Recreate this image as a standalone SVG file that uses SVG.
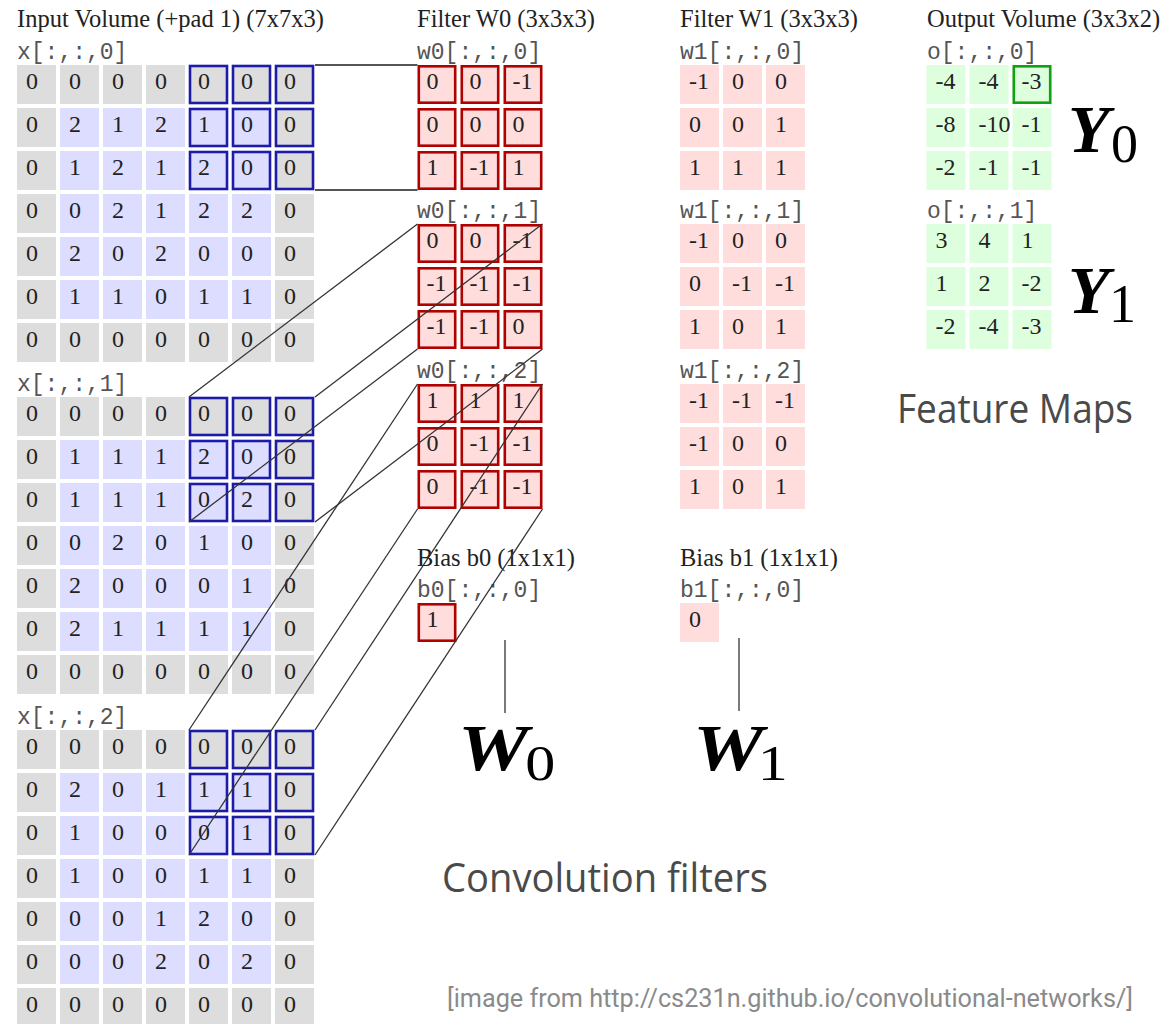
<svg xmlns="http://www.w3.org/2000/svg" xmlns:xlink="http://www.w3.org/1999/xlink" width="1169" height="1024" viewBox="0 0 1169 1024">
<style>
.p{fill:#dddddd}
.i{fill:#ddddff}
.f{fill:#ffdddd}
.g{fill:#ddffdd}
.fr{fill:#ffdddd;stroke:#b00000;stroke-width:2.6}
.hb{fill:none;stroke:#1c1ca8;stroke-width:2.6}
.hg{fill:none;stroke:#10a010;stroke-width:2.6}
.n text,.t{font-family:"Liberation Serif","Times New Roman",serif;font-size:24px;fill:#222}
.t{font-size:24.5px}
.m{font-family:"Liberation Mono","Courier New",monospace;font-size:23px;fill:#555}
.mb{font-family:"Liberation Serif","Times New Roman",serif;font-weight:bold;font-style:italic;font-size:66px;fill:#000}
.my{font-size:68px}
.ms{font-weight:normal;font-style:normal;font-size:54px}
.mw{font-weight:normal;font-style:normal;font-size:50px}
.cn{stroke:#333;stroke-width:1.3;fill:none}
.ct{stroke:#555;stroke-width:2;fill:none}
.pt{stroke:#222;stroke-width:1.2;fill:none}
.s1{font-family:"Open Sans","Noto Sans","Liberation Sans",sans-serif;font-size:40px;fill:#4a4a4a}
.s2{font-family:Roboto,"Open Sans","Liberation Sans",sans-serif;font-size:26px;fill:#8a8a8a}
</style>
<defs>
<g id="grid7">
<rect class="p" x="0" y="0" width="39" height="39"/><rect class="p" x="43" y="0" width="39" height="39"/><rect class="p" x="86" y="0" width="39" height="39"/><rect class="p" x="129" y="0" width="39" height="39"/><rect class="p" x="172" y="0" width="39" height="39"/><rect class="p" x="215" y="0" width="39" height="39"/><rect class="p" x="258" y="0" width="39" height="39"/>
<rect class="p" x="0" y="43" width="39" height="39"/><rect class="i" x="43" y="43" width="39" height="39"/><rect class="i" x="86" y="43" width="39" height="39"/><rect class="i" x="129" y="43" width="39" height="39"/><rect class="i" x="172" y="43" width="39" height="39"/><rect class="i" x="215" y="43" width="39" height="39"/><rect class="p" x="258" y="43" width="39" height="39"/>
<rect class="p" x="0" y="86" width="39" height="39"/><rect class="i" x="43" y="86" width="39" height="39"/><rect class="i" x="86" y="86" width="39" height="39"/><rect class="i" x="129" y="86" width="39" height="39"/><rect class="i" x="172" y="86" width="39" height="39"/><rect class="i" x="215" y="86" width="39" height="39"/><rect class="p" x="258" y="86" width="39" height="39"/>
<rect class="p" x="0" y="129" width="39" height="39"/><rect class="i" x="43" y="129" width="39" height="39"/><rect class="i" x="86" y="129" width="39" height="39"/><rect class="i" x="129" y="129" width="39" height="39"/><rect class="i" x="172" y="129" width="39" height="39"/><rect class="i" x="215" y="129" width="39" height="39"/><rect class="p" x="258" y="129" width="39" height="39"/>
<rect class="p" x="0" y="172" width="39" height="39"/><rect class="i" x="43" y="172" width="39" height="39"/><rect class="i" x="86" y="172" width="39" height="39"/><rect class="i" x="129" y="172" width="39" height="39"/><rect class="i" x="172" y="172" width="39" height="39"/><rect class="i" x="215" y="172" width="39" height="39"/><rect class="p" x="258" y="172" width="39" height="39"/>
<rect class="p" x="0" y="215" width="39" height="39"/><rect class="i" x="43" y="215" width="39" height="39"/><rect class="i" x="86" y="215" width="39" height="39"/><rect class="i" x="129" y="215" width="39" height="39"/><rect class="i" x="172" y="215" width="39" height="39"/><rect class="i" x="215" y="215" width="39" height="39"/><rect class="p" x="258" y="215" width="39" height="39"/>
<rect class="p" x="0" y="258" width="39" height="39"/><rect class="p" x="43" y="258" width="39" height="39"/><rect class="p" x="86" y="258" width="39" height="39"/><rect class="p" x="129" y="258" width="39" height="39"/><rect class="p" x="172" y="258" width="39" height="39"/><rect class="p" x="215" y="258" width="39" height="39"/><rect class="p" x="258" y="258" width="39" height="39"/>
<rect class="hb" x="173" y="1" width="37" height="37"/><rect class="hb" x="216" y="1" width="37" height="37"/><rect class="hb" x="259" y="1" width="37" height="37"/>
<rect class="hb" x="173" y="44" width="37" height="37"/><rect class="hb" x="216" y="44" width="37" height="37"/><rect class="hb" x="259" y="44" width="37" height="37"/>
<rect class="hb" x="173" y="87" width="37" height="37"/><rect class="hb" x="216" y="87" width="37" height="37"/><rect class="hb" x="259" y="87" width="37" height="37"/>
</g>
<g id="fr3">
<rect class="fr" x="1.3" y="1.3" width="36.4" height="36.4"/><rect class="fr" x="44.3" y="1.3" width="36.4" height="36.4"/><rect class="fr" x="87.3" y="1.3" width="36.4" height="36.4"/>
<rect class="fr" x="1.3" y="44.3" width="36.4" height="36.4"/><rect class="fr" x="44.3" y="44.3" width="36.4" height="36.4"/><rect class="fr" x="87.3" y="44.3" width="36.4" height="36.4"/>
<rect class="fr" x="1.3" y="87.3" width="36.4" height="36.4"/><rect class="fr" x="44.3" y="87.3" width="36.4" height="36.4"/><rect class="fr" x="87.3" y="87.3" width="36.4" height="36.4"/>
</g>
<g id="fp3">
<rect class="f" x="0" y="0" width="39" height="39"/><rect class="f" x="43" y="0" width="39" height="39"/><rect class="f" x="86" y="0" width="39" height="39"/>
<rect class="f" x="0" y="43" width="39" height="39"/><rect class="f" x="43" y="43" width="39" height="39"/><rect class="f" x="86" y="43" width="39" height="39"/>
<rect class="f" x="0" y="86" width="39" height="39"/><rect class="f" x="43" y="86" width="39" height="39"/><rect class="f" x="86" y="86" width="39" height="39"/>
</g>
<g id="og3">
<rect class="g" x="0" y="0" width="39" height="39"/><rect class="g" x="43" y="0" width="39" height="39"/><rect class="g" x="86" y="0" width="39" height="39"/>
<rect class="g" x="0" y="43" width="39" height="39"/><rect class="g" x="43" y="43" width="39" height="39"/><rect class="g" x="86" y="43" width="39" height="39"/>
<rect class="g" x="0" y="86" width="39" height="39"/><rect class="g" x="43" y="86" width="39" height="39"/><rect class="g" x="86" y="86" width="39" height="39"/>
</g>
</defs>
<rect width="1169" height="1024" fill="#ffffff"/>

<g id="titles">
<text class="t" x="17" y="27">Input Volume (+pad 1) (7x7x3)</text>
<text class="t" x="417" y="27">Filter W0 (3x3x3)</text>
<text class="t" x="680" y="27">Filter W1 (3x3x3)</text>
<text class="t" x="927" y="27">Output Volume (3x3x2)</text>
<text class="t" x="417" y="566">Bias b0 (1x1x1)</text>
<text class="t" x="680" y="566">Bias b1 (1x1x1)</text>
<text class="m" x="17" y="59">x[:,:,0]</text>
<text class="m" x="17" y="391">x[:,:,1]</text>
<text class="m" x="17" y="724">x[:,:,2]</text>
<text class="m" x="417" y="59">w0[:,:,0]</text>
<text class="m" x="417" y="218">w0[:,:,1]</text>
<text class="m" x="417" y="378">w0[:,:,2]</text>
<text class="m" x="680" y="59">w1[:,:,0]</text>
<text class="m" x="680" y="218">w1[:,:,1]</text>
<text class="m" x="680" y="378">w1[:,:,2]</text>
<text class="m" x="927" y="59">o[:,:,0]</text>
<text class="m" x="927" y="218">o[:,:,1]</text>
<text class="m" x="417" y="597">b0[:,:,0]</text>
<text class="m" x="680" y="597">b1[:,:,0]</text>
</g>

<g id="input-x0" class="n" transform="translate(17,65)">
<use xlink:href="#grid7"/>
<text x="9" y="24">0</text><text x="52" y="24">0</text><text x="95" y="24">0</text><text x="138" y="24">0</text><text x="181" y="24">0</text><text x="224" y="24">0</text><text x="267" y="24">0</text>
<text x="9" y="67">0</text><text x="52" y="67">2</text><text x="95" y="67">1</text><text x="138" y="67">2</text><text x="181" y="67">1</text><text x="224" y="67">0</text><text x="267" y="67">0</text>
<text x="9" y="110">0</text><text x="52" y="110">1</text><text x="95" y="110">2</text><text x="138" y="110">1</text><text x="181" y="110">2</text><text x="224" y="110">0</text><text x="267" y="110">0</text>
<text x="9" y="153">0</text><text x="52" y="153">0</text><text x="95" y="153">2</text><text x="138" y="153">1</text><text x="181" y="153">2</text><text x="224" y="153">2</text><text x="267" y="153">0</text>
<text x="9" y="196">0</text><text x="52" y="196">2</text><text x="95" y="196">0</text><text x="138" y="196">2</text><text x="181" y="196">0</text><text x="224" y="196">0</text><text x="267" y="196">0</text>
<text x="9" y="239">0</text><text x="52" y="239">1</text><text x="95" y="239">1</text><text x="138" y="239">0</text><text x="181" y="239">1</text><text x="224" y="239">1</text><text x="267" y="239">0</text>
<text x="9" y="282">0</text><text x="52" y="282">0</text><text x="95" y="282">0</text><text x="138" y="282">0</text><text x="181" y="282">0</text><text x="224" y="282">0</text><text x="267" y="282">0</text>
</g>

<g id="input-x1" class="n" transform="translate(17,397)">
<use xlink:href="#grid7"/>
<text x="9" y="24">0</text><text x="52" y="24">0</text><text x="95" y="24">0</text><text x="138" y="24">0</text><text x="181" y="24">0</text><text x="224" y="24">0</text><text x="267" y="24">0</text>
<text x="9" y="67">0</text><text x="52" y="67">1</text><text x="95" y="67">1</text><text x="138" y="67">1</text><text x="181" y="67">2</text><text x="224" y="67">0</text><text x="267" y="67">0</text>
<text x="9" y="110">0</text><text x="52" y="110">1</text><text x="95" y="110">1</text><text x="138" y="110">1</text><text x="181" y="110">0</text><text x="224" y="110">2</text><text x="267" y="110">0</text>
<text x="9" y="153">0</text><text x="52" y="153">0</text><text x="95" y="153">2</text><text x="138" y="153">0</text><text x="181" y="153">1</text><text x="224" y="153">0</text><text x="267" y="153">0</text>
<text x="9" y="196">0</text><text x="52" y="196">2</text><text x="95" y="196">0</text><text x="138" y="196">0</text><text x="181" y="196">0</text><text x="224" y="196">1</text><text x="267" y="196">0</text>
<text x="9" y="239">0</text><text x="52" y="239">2</text><text x="95" y="239">1</text><text x="138" y="239">1</text><text x="181" y="239">1</text><text x="224" y="239">1</text><text x="267" y="239">0</text>
<text x="9" y="282">0</text><text x="52" y="282">0</text><text x="95" y="282">0</text><text x="138" y="282">0</text><text x="181" y="282">0</text><text x="224" y="282">0</text><text x="267" y="282">0</text>
</g>

<g id="input-x2" class="n" transform="translate(17,730)">
<use xlink:href="#grid7"/>
<text x="9" y="24">0</text><text x="52" y="24">0</text><text x="95" y="24">0</text><text x="138" y="24">0</text><text x="181" y="24">0</text><text x="224" y="24">0</text><text x="267" y="24">0</text>
<text x="9" y="67">0</text><text x="52" y="67">2</text><text x="95" y="67">0</text><text x="138" y="67">1</text><text x="181" y="67">1</text><text x="224" y="67">1</text><text x="267" y="67">0</text>
<text x="9" y="110">0</text><text x="52" y="110">1</text><text x="95" y="110">0</text><text x="138" y="110">0</text><text x="181" y="110">0</text><text x="224" y="110">1</text><text x="267" y="110">0</text>
<text x="9" y="153">0</text><text x="52" y="153">1</text><text x="95" y="153">0</text><text x="138" y="153">0</text><text x="181" y="153">1</text><text x="224" y="153">1</text><text x="267" y="153">0</text>
<text x="9" y="196">0</text><text x="52" y="196">0</text><text x="95" y="196">0</text><text x="138" y="196">1</text><text x="181" y="196">2</text><text x="224" y="196">0</text><text x="267" y="196">0</text>
<text x="9" y="239">0</text><text x="52" y="239">0</text><text x="95" y="239">0</text><text x="138" y="239">2</text><text x="181" y="239">0</text><text x="224" y="239">2</text><text x="267" y="239">0</text>
<text x="9" y="282">0</text><text x="52" y="282">0</text><text x="95" y="282">0</text><text x="138" y="282">0</text><text x="181" y="282">0</text><text x="224" y="282">0</text><text x="267" y="282">0</text>
</g>

<g id="filter-w0-0" class="n" transform="translate(417.5,65)">
<use xlink:href="#fr3"/>
<text x="9" y="24">0</text><text x="52" y="24">0</text><text x="95" y="24">-1</text>
<text x="9" y="67">0</text><text x="52" y="67">0</text><text x="95" y="67">0</text>
<text x="9" y="110">1</text><text x="52" y="110">-1</text><text x="95" y="110">1</text>
</g>
<g id="filter-w0-1" class="n" transform="translate(417.5,224)">
<use xlink:href="#fr3"/>
<text x="9" y="24">0</text><text x="52" y="24">0</text><text x="95" y="24">-1</text>
<text x="9" y="67">-1</text><text x="52" y="67">-1</text><text x="95" y="67">-1</text>
<text x="9" y="110">-1</text><text x="52" y="110">-1</text><text x="95" y="110">0</text>
</g>
<g id="filter-w0-2" class="n" transform="translate(417.5,384)">
<use xlink:href="#fr3"/>
<text x="9" y="24">1</text><text x="52" y="24">1</text><text x="95" y="24">1</text>
<text x="9" y="67">0</text><text x="52" y="67">-1</text><text x="95" y="67">-1</text>
<text x="9" y="110">0</text><text x="52" y="110">-1</text><text x="95" y="110">-1</text>
</g>
<g id="bias-b0" class="n" transform="translate(417.5,603)">
<rect class="fr" x="1.3" y="1.3" width="36.4" height="36.4"/>
<text x="9" y="24">1</text>
</g>

<g id="filter-w1-0" class="n" transform="translate(680,65)">
<use xlink:href="#fp3"/>
<text x="9" y="24">-1</text><text x="52" y="24">0</text><text x="95" y="24">0</text>
<text x="9" y="67">0</text><text x="52" y="67">0</text><text x="95" y="67">1</text>
<text x="9" y="110">1</text><text x="52" y="110">1</text><text x="95" y="110">1</text>
</g>
<g id="filter-w1-1" class="n" transform="translate(680,224)">
<use xlink:href="#fp3"/>
<text x="9" y="24">-1</text><text x="52" y="24">0</text><text x="95" y="24">0</text>
<text x="9" y="67">0</text><text x="52" y="67">-1</text><text x="95" y="67">-1</text>
<text x="9" y="110">1</text><text x="52" y="110">0</text><text x="95" y="110">1</text>
</g>
<g id="filter-w1-2" class="n" transform="translate(680,384)">
<use xlink:href="#fp3"/>
<text x="9" y="24">-1</text><text x="52" y="24">-1</text><text x="95" y="24">-1</text>
<text x="9" y="67">-1</text><text x="52" y="67">0</text><text x="95" y="67">0</text>
<text x="9" y="110">1</text><text x="52" y="110">0</text><text x="95" y="110">1</text>
</g>
<g id="bias-b1" class="n" transform="translate(680,603)">
<rect class="f" x="0" y="0" width="39" height="39"/>
<text x="9" y="24">0</text>
</g>

<g id="output-o0" class="n" transform="translate(926.5,65)">
<use xlink:href="#og3"/>
<rect class="hg" x="87.3" y="1.3" width="36.4" height="36.4"/>
<text x="9" y="24">-4</text><text x="52" y="24">-4</text><text x="95" y="24">-3</text>
<text x="9" y="67">-8</text><text x="52" y="67">-10</text><text x="95" y="67">-1</text>
<text x="9" y="110">-2</text><text x="52" y="110">-1</text><text x="95" y="110">-1</text>
</g>
<g id="output-o1" class="n" transform="translate(926.5,224)">
<use xlink:href="#og3"/>
<text x="9" y="24">3</text><text x="52" y="24">4</text><text x="95" y="24">1</text>
<text x="9" y="67">1</text><text x="52" y="67">2</text><text x="95" y="67">-2</text>
<text x="9" y="110">-2</text><text x="52" y="110">-4</text><text x="95" y="110">-3</text>
</g>

<g id="connectors">
<line class="ct" x1="315" y1="65" x2="417.5" y2="65"/>
<line class="ct" x1="315" y1="190" x2="417.5" y2="190"/>
<line class="cn" x1="189" y1="397" x2="417.5" y2="224"/>
<line class="cn" x1="315" y1="397" x2="542.5" y2="224"/>
<line class="cn" x1="189" y1="522" x2="417.5" y2="349"/>
<line class="cn" x1="315" y1="522" x2="542.5" y2="349"/>
<line class="cn" x1="189" y1="730" x2="417.5" y2="384"/>
<line class="cn" x1="315" y1="730" x2="542.5" y2="384"/>
<line class="cn" x1="189" y1="855" x2="417.5" y2="509"/>
<line class="cn" x1="315" y1="855" x2="542.5" y2="509"/>
<line class="pt" x1="505" y1="640" x2="505" y2="713"/>
<line class="pt" x1="739" y1="638" x2="739" y2="711"/>
</g>

<g id="label-W0"><text class="mb" transform="translate(458,770) scale(1.2,1)">W<tspan class="mw" x="56" y="10">0</tspan></text></g>
<g id="label-W1"><text class="mb" transform="translate(693,770) scale(1.2,1)">W<tspan class="mw" x="54" y="10">1</tspan></text></g>
<g id="label-Y0"><text class="mb my" x="1068" y="152">Y<tspan class="ms" x="1111" y="162">0</tspan></text></g>
<g id="label-Y1"><text class="mb my" x="1068" y="313">Y<tspan class="ms" x="1109" y="322">1</tspan></text></g>

<g id="captions">
<text class="s1" x="897" y="423" textLength="236" lengthAdjust="spacingAndGlyphs">Feature Maps</text>
<text class="s1" x="442" y="892" textLength="326" lengthAdjust="spacingAndGlyphs">Convolution filters</text>
<text class="s2" x="447" y="1007" textLength="686" lengthAdjust="spacingAndGlyphs">[image from http://cs231n.github.io/convolutional-networks/]</text>
</g>
</svg>
